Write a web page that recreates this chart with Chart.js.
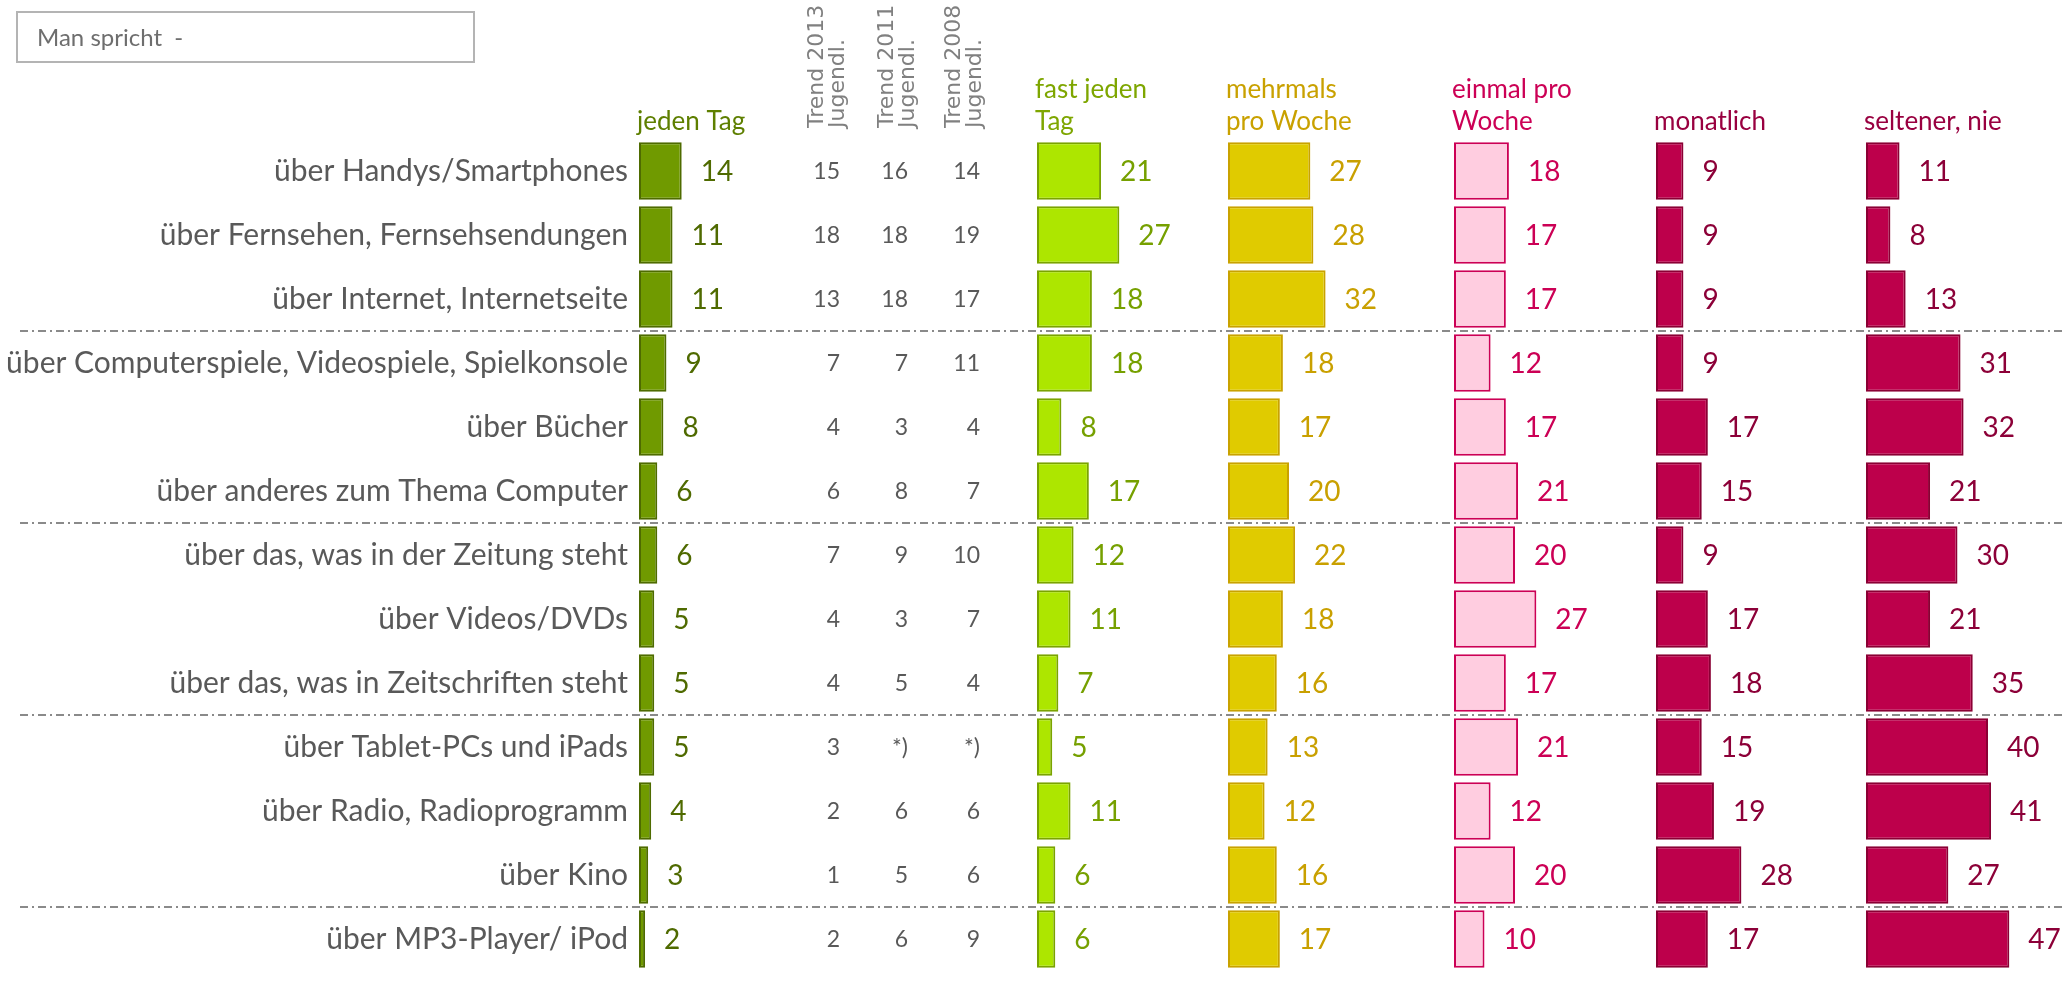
<!DOCTYPE html>
<html>
<head>
<meta charset="utf-8">
<script src="https://cdn.jsdelivr.net/npm/chart.js@4/dist/chart.umd.min.js"></script>
<style>
  html, body { margin: 0; padding: 0; background: #fff; overflow: hidden; }
  #wrap { position: relative; width: 2063px; height: 1000px; }
  #box {
    position: absolute; left: 16px; top: 11px; width: 436px; height: 48px;
    border: 2px solid #b4b4b4; font: 24px Lato, sans-serif; color: #6e6e6e;
    line-height: 48px; padding-left: 19px; white-space: pre;
  }
</style>
</head>
<body>
<div id="wrap">
  <canvas id="chart"></canvas>
  <div id="box">Man spricht  -</div>
</div>
<script>
// --- Daten ---
const categories = [
  'über Handys/Smartphones',
  'über Fernsehen, Fernsehsendungen',
  'über Internet, Internetseite',
  'über Computerspiele, Videospiele, Spielkonsole',
  'über Bücher',
  'über anderes zum Thema Computer',
  'über das, was in der Zeitung steht',
  'über Videos/DVDs',
  'über das, was in Zeitschriften steht',
  'über Tablet-PCs und iPads',
  'über Radio, Radioprogramm',
  'über Kino',
  'über MP3-Player/ iPod'
];
const jedenTag   = [14, 11, 11, 9, 8, 6, 6, 5, 5, 5, 4, 3, 2];
const fastJeden  = [21, 27, 18, 18, 8, 17, 12, 11, 7, 5, 11, 6, 6];
const mehrmals   = [27, 28, 32, 18, 17, 20, 22, 18, 16, 13, 12, 16, 17];
const einmal     = [18, 17, 17, 12, 17, 21, 20, 27, 17, 21, 12, 20, 10];
const monatlich  = [9, 9, 9, 9, 17, 15, 9, 17, 18, 15, 19, 28, 17];
const seltener   = [11, 8, 13, 31, 32, 21, 30, 21, 35, 40, 41, 27, 47];

const trend2013 = ['15', '18', '13', '7', '4', '6', '7', '4', '4', '3', '2', '1', '2'];
const trend2011 = ['16', '18', '18', '7', '3', '8', '9', '3', '5', '*)', '6', '5', '6'];
const trend2008 = ['14', '19', '17', '11', '4', '7', '10', '7', '4', '*)', '6', '6', '9'];
const trendHeaders = [['Trend 2013', 'Jugendl.'], ['Trend 2011', 'Jugendl.'], ['Trend 2008', 'Jugendl.']];

const seriesTitles = [['jeden Tag'], ['fast jeden', 'Tag'], ['mehrmals', 'pro Woche'], ['einmal pro', 'Woche'], ['monatlich'], ['seltener, nie']];
const groupBreaks = [3, 6, 9, 12];

// --- Layout ---
const W = 2063, H = 1000;
const areaLeft = 639, areaTop = 139, areaBottom = 993;
const pxPerUnit = 3.05;
const colStart = [639, 1037, 1228, 1454, 1656, 1866];
const trendRight = [840, 908, 980];
const trendHeadX = [823, 893, 960];

const styles = [
  { fill: '#709a00', border: '#4e6b00', label: '#4f6a00', title: '#5e7f00' },
  { fill: '#ade600', border: '#7aa300', label: '#76a000', title: '#7ea600' },
  { fill: '#e0cb00', border: '#c9a200', label: '#c9a000', title: '#c9a100' },
  { fill: '#ffcde0', border: '#cc0055', label: '#cc0055', title: '#cc0055' },
  { fill: '#bd004b', border: '#8a0034', label: '#8c0038', title: '#990040' },
  { fill: '#bd004b', border: '#8a0034', label: '#8c0038', title: '#990040' }
];
const allSeries = [jedenTag, fastJeden, mehrmals, einmal, monatlich, seltener];

const datasets = allSeries.map((d, i) => ({
  data: d,
  xAxisID: 'x' + i,
  backgroundColor: styles[i].fill,
  borderColor: styles[i].border,
  borderWidth: 2,
  borderSkipped: false,
  grouped: false,
  barPercentage: 0.9,
  categoryPercentage: 1
}));

// jede Spalte bekommt eine eigene x-Achse, 0 liegt am Spaltenanfang
const scales = {
  y: {
    type: 'category',
    offset: true,
    grid: { display: false, drawTicks: false },
    border: { display: false },
    ticks: { font: { family: 'Lato', size: 30 }, color: '#595959', padding: 11, autoSkip: false },
    afterFit(scale) { scale.width = areaLeft; }
  }
};
colStart.forEach((s, i) => {
  const min = -(s - areaLeft) / pxPerUnit;
  scales['x' + i] = { type: 'linear', display: false, min: min, max: min + (W - areaLeft) / pxPerUnit };
});

const extras = {
  id: 'extras',
  beforeDatasetsDraw(chart) {
    const ctx = chart.ctx, y = chart.scales.y;
    ctx.save();
    ctx.strokeStyle = '#8a8a8a';
    ctx.lineWidth = 2;
    ctx.setLineDash([8, 4, 2, 4]);
    groupBreaks.forEach(b => {
      const py = Math.round((y.getPixelForValue(b - 1) + y.getPixelForValue(b)) / 2);
      ctx.beginPath();
      ctx.moveTo(20, py);
      ctx.lineTo(W, py);
      ctx.stroke();
    });
    ctx.restore();
  },
  afterDatasetsDraw(chart) {
    const ctx = chart.ctx, y = chart.scales.y;
    ctx.save();
    // Werte rechts neben den Balken
    ctx.font = '28px Lato';
    ctx.textBaseline = 'middle';
    ctx.textAlign = 'left';
    chart.data.datasets.forEach((ds, i) => {
      ctx.fillStyle = styles[i].label;
      chart.getDatasetMeta(i).data.forEach((bar, j) => {
        ctx.fillText(String(ds.data[j]), bar.x + 19, bar.y + 1);
      });
    });
    // Trendspalten
    ctx.font = '23px Lato';
    ctx.fillStyle = '#595959';
    ctx.textAlign = 'right';
    [trend2013, trend2011, trend2008].forEach((t, k) => {
      t.forEach((v, j) => ctx.fillText(v, trendRight[k], y.getPixelForValue(j) + 1));
    });
    // Spaltenüberschriften
    ctx.font = '26px Lato';
    ctx.textAlign = 'left';
    ctx.textBaseline = 'alphabetic';
    seriesTitles.forEach((lines, i) => {
      const x = chart.scales['x' + i].getPixelForValue(0);
      ctx.fillStyle = styles[i].title;
      lines.forEach((ln, k) => {
        ctx.fillText(ln, x - 2, 130 - (lines.length - 1 - k) * 32);
      });
    });
    // gedrehte Trend-Überschriften
    ctx.font = '22px "DejaVu Sans"';
    ctx.fillStyle = '#808080';
    trendHeaders.forEach((lines, k) => {
      ctx.save();
      ctx.translate(trendHeadX[k], 128);
      ctx.rotate(-Math.PI / 2);
      lines.forEach((ln, n) => ctx.fillText(ln, 0, n * 21));
      ctx.restore();
    });
    ctx.restore();
  }
};

new Chart(document.getElementById('chart'), {
  type: 'bar',
  data: { labels: categories, datasets: datasets },
  options: {
    indexAxis: 'y',
    responsive: true,
    maintainAspectRatio: false,
    animation: false,
    layout: { padding: { top: areaTop, bottom: H - areaBottom, left: 0, right: 0 } },
    plugins: { legend: { display: false }, tooltip: { enabled: false } },
    scales: scales
  },
  plugins: [extras]
});
</script>
</body>
</html>
